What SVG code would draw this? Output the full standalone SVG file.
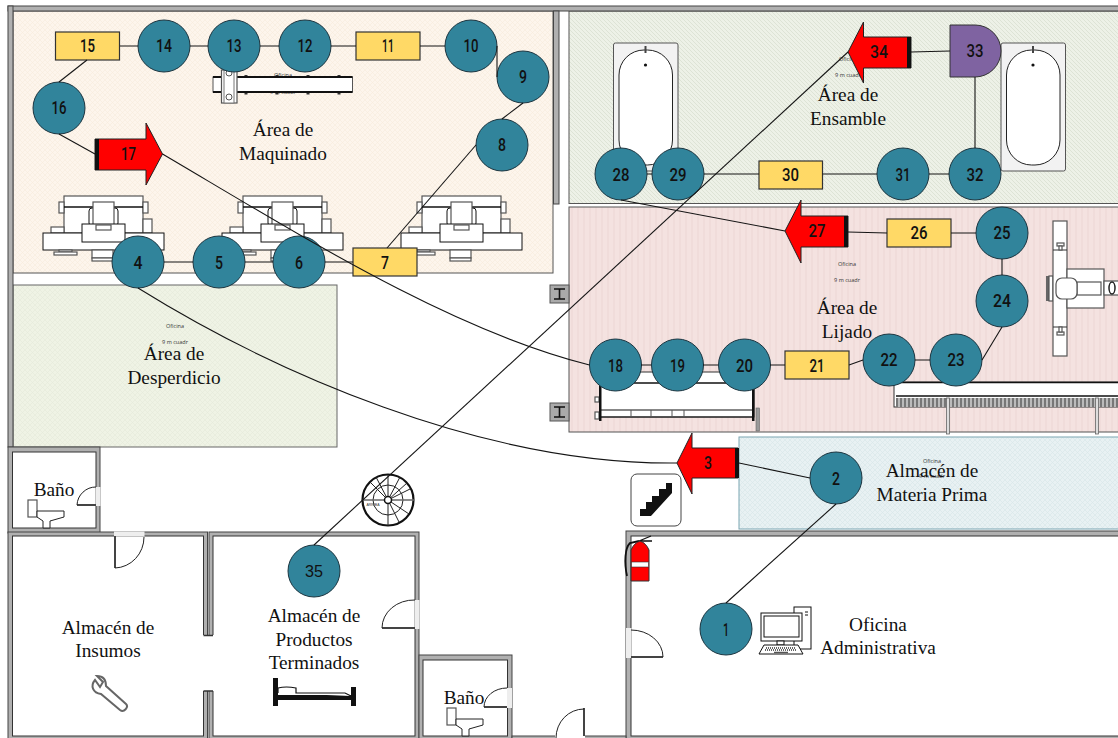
<svg xmlns="http://www.w3.org/2000/svg" xmlns:xlink="http://www.w3.org/1999/xlink" width="1118" height="738" viewBox="0 0 1118 738">
<style>
.wall{fill:#b0b0b0;stroke:#444;stroke-width:1}
.in{fill:#fff;stroke:#333;stroke-width:1}
.gap{fill:#eee;stroke:none}
.door{fill:none;stroke:#222;stroke-width:1}
.leaf{fill:none;stroke:#444;stroke-width:2}
.lbl{font-family:"Liberation Serif","Times New Roman",serif;font-size:19.3px;fill:#111;text-anchor:middle}
.sm{font-family:"Open Sans","Liberation Sans",sans-serif;font-size:5.5px;fill:#333;text-anchor:middle}
.num{font-family:Roboto,"Liberation Sans",sans-serif;font-size:19px;font-weight:500;fill:#111;text-anchor:middle}
.arial{font-family:"Liberation Sans",Arial,sans-serif;font-size:17px;font-weight:400;fill:#111;text-anchor:middle}
.c{fill:#31849b;stroke:#1c3540;stroke-width:1}
.y{fill:#ffd966;stroke:#333;stroke-width:1.2}
.r{fill:#f00;stroke:#222;stroke-width:1}
.bar{fill:#111}
.fx{fill:#fff;stroke:#555;stroke-width:1.200}
.fk{fill:#fff;stroke:#111;stroke-width:1}
.k{fill:#111}
.cn{fill:none;stroke:#151515;stroke-width:1.100}
</style>
<defs>
<pattern id="pCream" width="5" height="5" patternUnits="userSpaceOnUse"><rect width="5" height="5" fill="#fdf5ec"/><path d="M0 5L5 0M0 0L5 5" stroke="#f7ebdc" stroke-width=".6"/></pattern>
<pattern id="pGreen" width="4" height="4" patternUnits="userSpaceOnUse"><rect width="4" height="4" fill="#edf1e7"/><path d="M0 0L4 4M-1 3L1 5M3 -1L5 1" stroke="#d9e0d0" stroke-width=".8"/></pattern>
<pattern id="pPink" width="6" height="6" patternUnits="userSpaceOnUse"><rect width="6" height="6" fill="#f4e2e0"/><path d="M2 0V6" stroke="#ecd6d4" stroke-width="1"/></pattern>
<pattern id="pDesp" width="5" height="5" patternUnits="userSpaceOnUse"><rect width="5" height="5" fill="#eff3e5"/><path d="M0 5L5 0M0 0L5 5" stroke="#e4eada" stroke-width=".6"/></pattern>
<pattern id="pBlue" width="5" height="5" patternUnits="userSpaceOnUse"><rect width="5" height="5" fill="#e8f1f3"/><path d="M0 5L5 0M0 0L5 5" stroke="#d8e6ea" stroke-width=".7"/></pattern>
<pattern id="pGrill" width="4" height="9" patternUnits="userSpaceOnUse"><rect width="4" height="9" fill="#bbb"/><rect width="2" height="9" fill="#777"/></pattern>
<g id="mill">
<rect class="fx" x="64" y="196" width="79" height="37"/>
<rect class="fx" x="59" y="202" width="5" height="11"/><rect class="fx" x="143" y="202" width="5" height="11"/>
<path d="M64 207H143" stroke="#111" stroke-width="1.5"/>
<rect class="fk" x="89" y="208" width="29" height="18" rx="3"/>
<rect class="fx" x="93" y="202" width="21" height="23"/>
<rect class="fx" x="51" y="227" width="13" height="6"/><rect class="fx" x="143" y="219" width="9" height="14"/>
<rect class="fk" x="43" y="233" width="121" height="17"/>
<rect class="fk" x="82" y="224" width="43" height="18"/>
<rect class="fx" x="96" y="225" width="15" height="5"/>
<rect class="fx" x="59" y="250" width="13" height="2"/><rect class="fx" x="54" y="252" width="23" height="3"/>
<rect class="fx" x="92" y="250" width="21" height="8"/><rect class="fx" x="92" y="258" width="21" height="3"/>
</g>
<g id="tub"><rect x="0" y="0" width="64.500" height="128" rx="2" fill="#f2f2f2" stroke="#555"/><rect x="5.500" y="7" width="53.500" height="115" rx="25" fill="#fff" stroke="#222"/><path d="M32 3V10" stroke="#444" stroke-width="2"/><circle cx="32" cy="22" r="1.600" fill="#111"/></g>
<g id="wc"><rect class="fx" x="28" y="500" width="9" height="17"/><path d="M37 511H64V517L50 521V528H43V521L37 517Z" fill="#fff" stroke="#222"/></g>
<g id="ibeam"><rect x="0" y="0" width="19" height="18" fill="#aaa" stroke="#555"/><path d="M4 4H15M9.500 4V14M4 14H15" stroke="#111" stroke-width="1.600" fill="none"/></g>
</defs>

<!-- zones -->
<rect x="13" y="11" width="540" height="262" fill="url(#pCream)" stroke="#555"/>
<text class="sm" x="283" y="77">Oficina</text><text class="sm" x="283" y="94">9 m cuadr</text>
<rect x="569" y="11" width="560" height="192.500" fill="url(#pGreen)" stroke="#555"/>
<rect x="569" y="207" width="560" height="225" fill="url(#pPink)" stroke="#555"/>
<rect x="13" y="285" width="324" height="162" fill="url(#pDesp)" stroke="#666"/>
<rect x="739" y="437" width="400" height="92" fill="url(#pBlue)" stroke="#7ba5b2"/>
<text class="sm" x="175" y="328">Oficina</text><text class="sm" x="175" y="344">9 m cuadr</text>
<text class="sm" x="847" y="266">Oficina</text><text class="sm" x="847" y="282">9 m cuadr</text>
<text class="sm" x="848" y="61">Oficina</text><text class="sm" x="848" y="77">9 m cuadr</text>
<text class="sm" x="932" y="463">Oficina</text><text class="sm" x="932" y="478">9 m cuadr</text>

<!-- walls -->
<rect class="wall" x="8" y="6" width="1115" height="5"/>
<rect class="wall" x="8" y="6" width="5" height="441"/>
<rect class="wall" x="553.500" y="11" width="5.500" height="193"/>
<rect class="wall" x="8" y="447" width="92" height="86"/><rect class="in" x="12.500" y="452" width="83.500" height="76"/>
<rect class="wall" x="8" y="532" width="199.500" height="210"/><rect class="in" x="12.500" y="536" width="191" height="200"/>
<rect class="wall" x="209" y="532" width="210" height="210"/><rect class="in" x="213" y="536" width="202" height="200"/>
<rect class="wall" x="419" y="655" width="93" height="88"/><rect class="in" x="423" y="660" width="84.500" height="76"/>
<rect class="wall" x="626" y="531" width="500" height="212"/><rect class="in" x="631" y="536" width="500" height="200"/>
<rect class="wall" x="512" y="736" width="114" height="6"/>
<rect x="555" y="735" width="30" height="4" fill="#fff"/>
<!-- openings and doors -->
<rect x="203" y="635" width="11" height="56" fill="#fff"/>
<path d="M203.500 635.500H213M203.500 691H213" stroke="#333" stroke-width="1.500"/>
<rect class="gap" x="95.500" y="487" width="5" height="19"/>
<path class="leaf" d="M77 505H96"/><path class="door" d="M77 505A19 19 0 0 1 96 487"/>
<rect class="gap" x="114" y="531.500" width="30.500" height="5"/>
<path class="leaf" d="M115 536V568"/><path class="door" d="M115 568A30 31 0 0 0 144 537"/>
<rect class="gap" x="414.500" y="600" width="5" height="29"/>
<path class="leaf" d="M382 628H415"/><path class="door" d="M382 628A32 28 0 0 1 415 600"/>
<rect class="gap" x="507" y="688" width="5" height="20"/>
<path class="leaf" d="M484 707H507"/><path class="door" d="M484 707A23 19 0 0 1 507 688"/>
<rect class="gap" x="626" y="628" width="5.500" height="30"/>
<path class="leaf" d="M631 657H663"/><path class="door" d="M663 657A32 27 0 0 0 631 630"/>
<path class="leaf" d="M584 708V736"/><path class="door" d="M556 738A28 29 0 0 1 584 709"/>

<!-- fixtures -->
<use xlink:href="#tub" x="613.500" y="43"/>
<use xlink:href="#tub" x="1001" y="43"/>
<use xlink:href="#wc"/><use xlink:href="#wc" x="419" y="208"/>
<use xlink:href="#ibeam" x="550" y="285"/><use xlink:href="#ibeam" x="550" y="403"/>
<use xlink:href="#mill"/><use xlink:href="#mill" x="179"/><use xlink:href="#mill" x="358"/>
<g id="lathe">
<path d="M246 75V77M277 75V77M308 75V77M339 75V77M246 92V94.500M277 92V94.500M308 92V94.500M339 92V94.500" stroke="#333" stroke-width="3"/>
<rect x="213" y="77" width="139.500" height="15" fill="#fff" stroke="#555"/>
<path d="M213 77H352.500M213 92H352.500" stroke="#111" stroke-width="1.800"/>
<rect class="fx" x="221.500" y="70" width="15.500" height="33"/>
<rect x="224" y="70" width="10" height="33" fill="#fff" stroke="#777"/>
<circle cx="229" cy="97" r="3" fill="#fff" stroke="#555"/><circle cx="229" cy="73" r="3" fill="#fff" stroke="#555"/>
</g>
<g id="bench">
<rect x="600" y="372" width="154" height="45" fill="#fff" stroke="#333"/>
<path d="M600 383H754" stroke="#111" stroke-width="1.300"/>
<path d="M600 410H754M600 417H754" stroke="#111" stroke-width="1.200"/>
<path d="M631 410V417M651 410V417M672 410V417M684 410V417" stroke="#555"/>
<rect class="fx" x="595" y="397" width="4" height="5"/><rect class="fx" x="595" y="412" width="4" height="7"/>
<rect class="k" x="599" y="385" width="2.500" height="36"/><rect class="k" x="752" y="385" width="2.500" height="36"/>
<rect x="756" y="408" width="3.500" height="23" fill="#999" stroke="#666" stroke-width=".6"/>
</g>
<g id="longtable">
<rect x="894" y="382" width="240" height="25" fill="#fff" stroke="#333"/>
<path d="M894 382.500H1118" stroke="#111" stroke-width="1.300"/>
<path d="M896 396H1118" stroke="#111" stroke-width="1.300"/>
<rect x="896" y="398" width="222" height="9" fill="url(#pGrill)"/>
<rect x="946.500" y="398" width="3" height="36" fill="#ddd" stroke="#666" stroke-width=".8"/>
<rect x="1095.500" y="398" width="3" height="36" fill="#ddd" stroke="#666" stroke-width=".8"/>
</g>
<g id="rmachine">
<rect x="1046" y="276" width="3" height="25" fill="#666"/>
<rect class="fx" x="1049" y="276" width="4" height="25"/>
<rect class="fx" x="1053" y="221" width="14" height="135"/>
<path d="M1053 250H1067M1053 327H1067" stroke="#333"/>
<rect class="fx" x="1067" y="269" width="37" height="39"/>
<rect class="fx" x="1077" y="282" width="24" height="13"/>
<rect class="fx" x="1056" y="278" width="21" height="21" rx="6" stroke="#111"/>
<rect class="fx" x="1057" y="243" width="7" height="3"/><rect class="fx" x="1059" y="246" width="3" height="4"/>
<rect class="fx" x="1057" y="332" width="7" height="3"/><rect class="fx" x="1059" y="327" width="3" height="5"/>
<rect class="fx" x="1104" y="281" width="16" height="14"/>
<ellipse cx="1112" cy="288" rx="3" ry="6" fill="#fff" stroke="#222" stroke-width="1.500"/>
</g>
<g id="stairs">
<rect x="631" y="474" width="50" height="52" rx="6" fill="#fff" stroke="#444"/>
<path class="k" d="M640 516V509H646V502H652V496H659V489H666V483H672V493L651 516Z"/>
</g>
<g id="extinguisher">
<path d="M627 576C624 562 625 548 630 543L639 541" fill="none" stroke="#111" stroke-width="1.800"/>
<path d="M639 541L651 536M640 541H652" stroke="#111" stroke-width="1.300"/>
<path d="M631 581V550Q634 543 640 541Q646 543 649 550V581Z" fill="#f00" stroke="#333"/>
<rect x="631.500" y="562" width="17" height="5" fill="#fff" stroke="#333" stroke-width=".6"/>
</g>
<g id="computer">
<rect class="fk" x="794" y="607" width="17" height="42"/>
<path d="M805 612H808M805 615H808" stroke="#111"/>
<rect class="fk" x="761" y="613" width="41" height="28"/>
<rect class="fk" x="764" y="616" width="35" height="21"/>
<rect class="fk" x="777" y="641" width="7" height="4"/>
<path d="M764 645H798L803 654H759Z" fill="#fff" stroke="#111"/>
<path d="M766 648H796M765 650H797" stroke="#333" stroke-dasharray="1 1" stroke-width="1.500"/>
<path d="M774 652.500H788" stroke="#555" stroke-width="1.500"/>
</g>
<g id="spiral" fill="none" stroke="#222">
<circle cx="388" cy="500" r="25.500" fill="#fff" stroke="#111" stroke-width="2.200"/>
<circle cx="388" cy="500" r="15"/>
<path d="M388 474.500V526M388 500L370 482M388 500L376 477M388 500L400 477M388 500L407 483M388 500L410 489M388 500L409 514M388 500L399 522" stroke-width="1"/>
<path d="M362.500 500H414" stroke="#666" stroke-width="1.600"/>
<circle cx="388" cy="500" r="3.500" fill="#fff" stroke="#111" stroke-width="1.500"/>
</g>
<text x="373" y="505.500" font-family="Liberation Sans,sans-serif" font-size="3.500" fill="#333" text-anchor="middle">ARRIBA</text>
<g id="bed">
<rect class="k" x="273" y="678" width="5" height="28"/><rect class="k" x="351" y="687" width="5" height="19"/>
<path d="M278 695H351V700H278Z" fill="#111"/>
<path d="M278 693V688Q286 686 296 688V693L345 693L351 696" fill="#fff" stroke="#111" stroke-width="1.200"/>
</g>
<g id="wrench" fill="none" stroke-linecap="round">
<path d="M95 680C90 686 93 693 101 694L120 710C124 713 129 707 126 704L106 686C106 680 103 676 97 676L103 682L100 687L95 680Z" fill="#fff" stroke="#666" stroke-width="2"/>
</g>

<!-- labels -->
<g id="labels">
<text class="lbl" x="283" y="136">Área de</text><text class="lbl" x="283" y="160">Maquinado</text>
<text class="lbl" x="848" y="101">Área de</text><text class="lbl" x="848" y="125">Ensamble</text>
<text class="lbl" x="847" y="314">Área de</text><text class="lbl" x="847" y="338">Lijado</text>
<text class="lbl" x="174" y="360">Área de</text><text class="lbl" x="174" y="384">Desperdicio</text>
<text class="lbl" x="54" y="496">Baño</text>
<text class="lbl" x="932" y="477">Almacén de</text><text class="lbl" x="932" y="501">Materia Prima</text>
<text class="lbl" x="108" y="634">Almacén de</text><text class="lbl" x="108" y="657">Insumos</text>
<text class="lbl" x="314" y="622">Almacén de</text><text class="lbl" x="314" y="646">Productos</text><text class="lbl" x="314" y="669">Terminados</text>
<text class="lbl" x="464" y="704">Baño</text>
<text class="lbl" x="878" y="631">Oficina</text><text class="lbl" x="878" y="654">Administrativa</text>
</g>

<!-- nodes -->
<g id="n1"><circle class="c" cx="726" cy="629" r="26"/><text class="num" x="726" y="636" textLength="6" lengthAdjust="spacingAndGlyphs">1</text></g>
<g id="n2"><circle class="c" cx="836" cy="478" r="26"/><text class="num" x="836" y="485" textLength="8" lengthAdjust="spacingAndGlyphs">2</text></g>
<g id="n3"><path class="r" d="M677 463L692 433V448H738V478H692V494Z"/><rect class="bar" x="735" y="448" width="4" height="30"/><text class="num" x="708" y="469" textLength="8" lengthAdjust="spacingAndGlyphs">3</text></g>
<g id="n4"><circle class="c" cx="138" cy="262" r="26"/><text class="num" x="138" y="269" textLength="9" lengthAdjust="spacingAndGlyphs">4</text></g>
<g id="n5"><circle class="c" cx="219" cy="262" r="26"/><text class="num" x="219" y="269" textLength="8" lengthAdjust="spacingAndGlyphs">5</text></g>
<g id="n6"><circle class="c" cx="299" cy="262" r="26"/><text class="num" x="299" y="269" textLength="8" lengthAdjust="spacingAndGlyphs">6</text></g>
<g id="n7"><rect class="y" x="353" y="248" width="64" height="28"/><text class="num" x="385" y="268.500" textLength="8" lengthAdjust="spacingAndGlyphs">7</text></g>
<g id="n8"><circle class="c" cx="502" cy="145" r="26"/><text class="num" x="502" y="151" textLength="8" lengthAdjust="spacingAndGlyphs">8</text></g>
<g id="n9"><circle class="c" cx="523" cy="77" r="26"/><text class="num" x="523" y="83" textLength="8" lengthAdjust="spacingAndGlyphs">9</text></g>
<g id="n10"><circle class="c" cx="471" cy="46" r="26"/><text class="num" x="471" y="52" textLength="15" lengthAdjust="spacingAndGlyphs">10</text></g>
<g id="n11"><rect class="y" x="356" y="32" width="64" height="28"/><text class="num" x="388" y="52" textLength="12" lengthAdjust="spacingAndGlyphs">11</text></g>
<g id="n12"><circle class="c" cx="305" cy="46" r="26"/><text class="num" x="305" y="52" textLength="15" lengthAdjust="spacingAndGlyphs">12</text></g>
<g id="n13"><circle class="c" cx="234" cy="46" r="26"/><text class="num" x="234" y="52" textLength="15" lengthAdjust="spacingAndGlyphs">13</text></g>
<g id="n14"><circle class="c" cx="164" cy="46" r="26"/><text class="num" x="164" y="52" textLength="16" lengthAdjust="spacingAndGlyphs">14</text></g>
<g id="n15"><rect class="y" x="55.500" y="32" width="64" height="28"/><text class="num" x="87.500" y="52" textLength="15" lengthAdjust="spacingAndGlyphs">15</text></g>
<g id="n16"><circle class="c" cx="59" cy="108" r="26"/><text class="num" x="59" y="114" textLength="15" lengthAdjust="spacingAndGlyphs">16</text></g>
<g id="n17"><path class="r" d="M162.500 154L146 185V170H95V139H146V123Z"/><rect class="bar" x="95" y="139" width="4" height="31"/><text class="num" x="128.500" y="160" textLength="15" lengthAdjust="spacingAndGlyphs">17</text></g>
<g id="n18"><circle class="c" cx="615.500" cy="365" r="26"/><text class="num" x="615.500" y="372" textLength="15" lengthAdjust="spacingAndGlyphs">18</text></g>
<g id="n19"><circle class="c" cx="677.500" cy="365" r="26"/><text class="num" x="677.500" y="372" textLength="15" lengthAdjust="spacingAndGlyphs">19</text></g>
<g id="n20"><circle class="c" cx="744.500" cy="365" r="26"/><text class="num" x="744.500" y="372" textLength="17" lengthAdjust="spacingAndGlyphs">20</text></g>
<g id="n21"><rect class="y" x="785" y="351" width="64" height="28"/><text class="num" x="817" y="372" textLength="15" lengthAdjust="spacingAndGlyphs">21</text></g>
<g id="n22"><circle class="c" cx="889" cy="360" r="26"/><text class="num" x="889" y="366" textLength="17" lengthAdjust="spacingAndGlyphs">22</text></g>
<g id="n23"><circle class="c" cx="956" cy="360" r="26"/><text class="num" x="956" y="366" textLength="17" lengthAdjust="spacingAndGlyphs">23</text></g>
<g id="n24"><circle class="c" cx="1002" cy="301" r="26"/><text class="num" x="1002" y="307" textLength="18" lengthAdjust="spacingAndGlyphs">24</text></g>
<g id="n25"><circle class="c" cx="1002" cy="233" r="26"/><text class="num" x="1002" y="239" textLength="17" lengthAdjust="spacingAndGlyphs">25</text></g>
<g id="n26"><rect class="y" x="887" y="219" width="64" height="28"/><text class="num" x="919" y="239" textLength="17" lengthAdjust="spacingAndGlyphs">26</text></g>
<g id="n27"><path class="r" d="M785 231L801 200V216H848V247H801V263Z"/><rect class="bar" x="844" y="216" width="4" height="31"/><text class="num" x="817" y="237" textLength="17" lengthAdjust="spacingAndGlyphs">27</text></g>
<g id="n28"><circle class="c" cx="621" cy="174" r="26"/><text class="num" x="621" y="181" textLength="17" lengthAdjust="spacingAndGlyphs">28</text></g>
<g id="n29"><circle class="c" cx="678" cy="174" r="26"/><text class="num" x="678" y="181" textLength="17" lengthAdjust="spacingAndGlyphs">29</text></g>
<g id="n30"><rect class="y" x="759" y="161" width="63.500" height="28"/><text class="num" x="790.500" y="181" textLength="17" lengthAdjust="spacingAndGlyphs">30</text></g>
<g id="n31"><circle class="c" cx="903" cy="174" r="26"/><text class="num" x="903" y="181" textLength="15" lengthAdjust="spacingAndGlyphs">31</text></g>
<g id="n32"><circle class="c" cx="975" cy="174" r="26"/><text class="num" x="975" y="181" textLength="17" lengthAdjust="spacingAndGlyphs">32</text></g>
<g id="n33"><path d="M950 25H975A26 26 0 0 1 975 77H950Z" fill="#7f63a1" stroke="#333"/><text class="num" x="975" y="57" textLength="17" lengthAdjust="spacingAndGlyphs">33</text></g>
<g id="n34"><path class="r" d="M848 52L863.500 22V37H911V68H863.500V83Z"/><rect class="bar" x="907" y="37" width="4" height="31"/><text class="num" x="879" y="58" textLength="18" lengthAdjust="spacingAndGlyphs">34</text></g>
<g id="n35"><circle class="c" cx="314" cy="571" r="26"/><text class="arial" x="314" y="577" textLength="18" lengthAdjust="spacingAndGlyphs">35</text></g>

<!-- connectors -->
<g id="connectors" class="cn">
<path d="M726 603L836 504"/>
<path d="M810 478L739 463"/>
<path d="M677 463C480 465 270 370 138 288"/>
<path d="M164 262H193M245 262H273M325 262H353"/>
<path d="M387 248L476 145"/>
<path d="M502 119L523 103"/>
<path d="M497 46V77"/>
<path d="M420 46H445M331 46H356M260 46H279M190 46H208M120 46H138"/>
<path d="M87 60L59 82"/>
<path d="M59 134L95 154"/>
<path d="M162.500 154C300 235 450 330 589.500 365"/>
<path d="M641 365H651M703 365H718M770 365H785"/>
<path d="M849 365L863 360M915 360H930"/>
<path d="M982 360L1002 327M1002 275V259"/>
<path d="M976 233H951M887 233L848 232"/>
<path d="M785 231L621 200"/>
<path d="M647 174H652M704 174H759M822.500 174H877M929 174H949"/>
<path d="M975 148V77M950 51L911 52"/>
<path d="M848 52L314 545"/>
</g>
</svg>
